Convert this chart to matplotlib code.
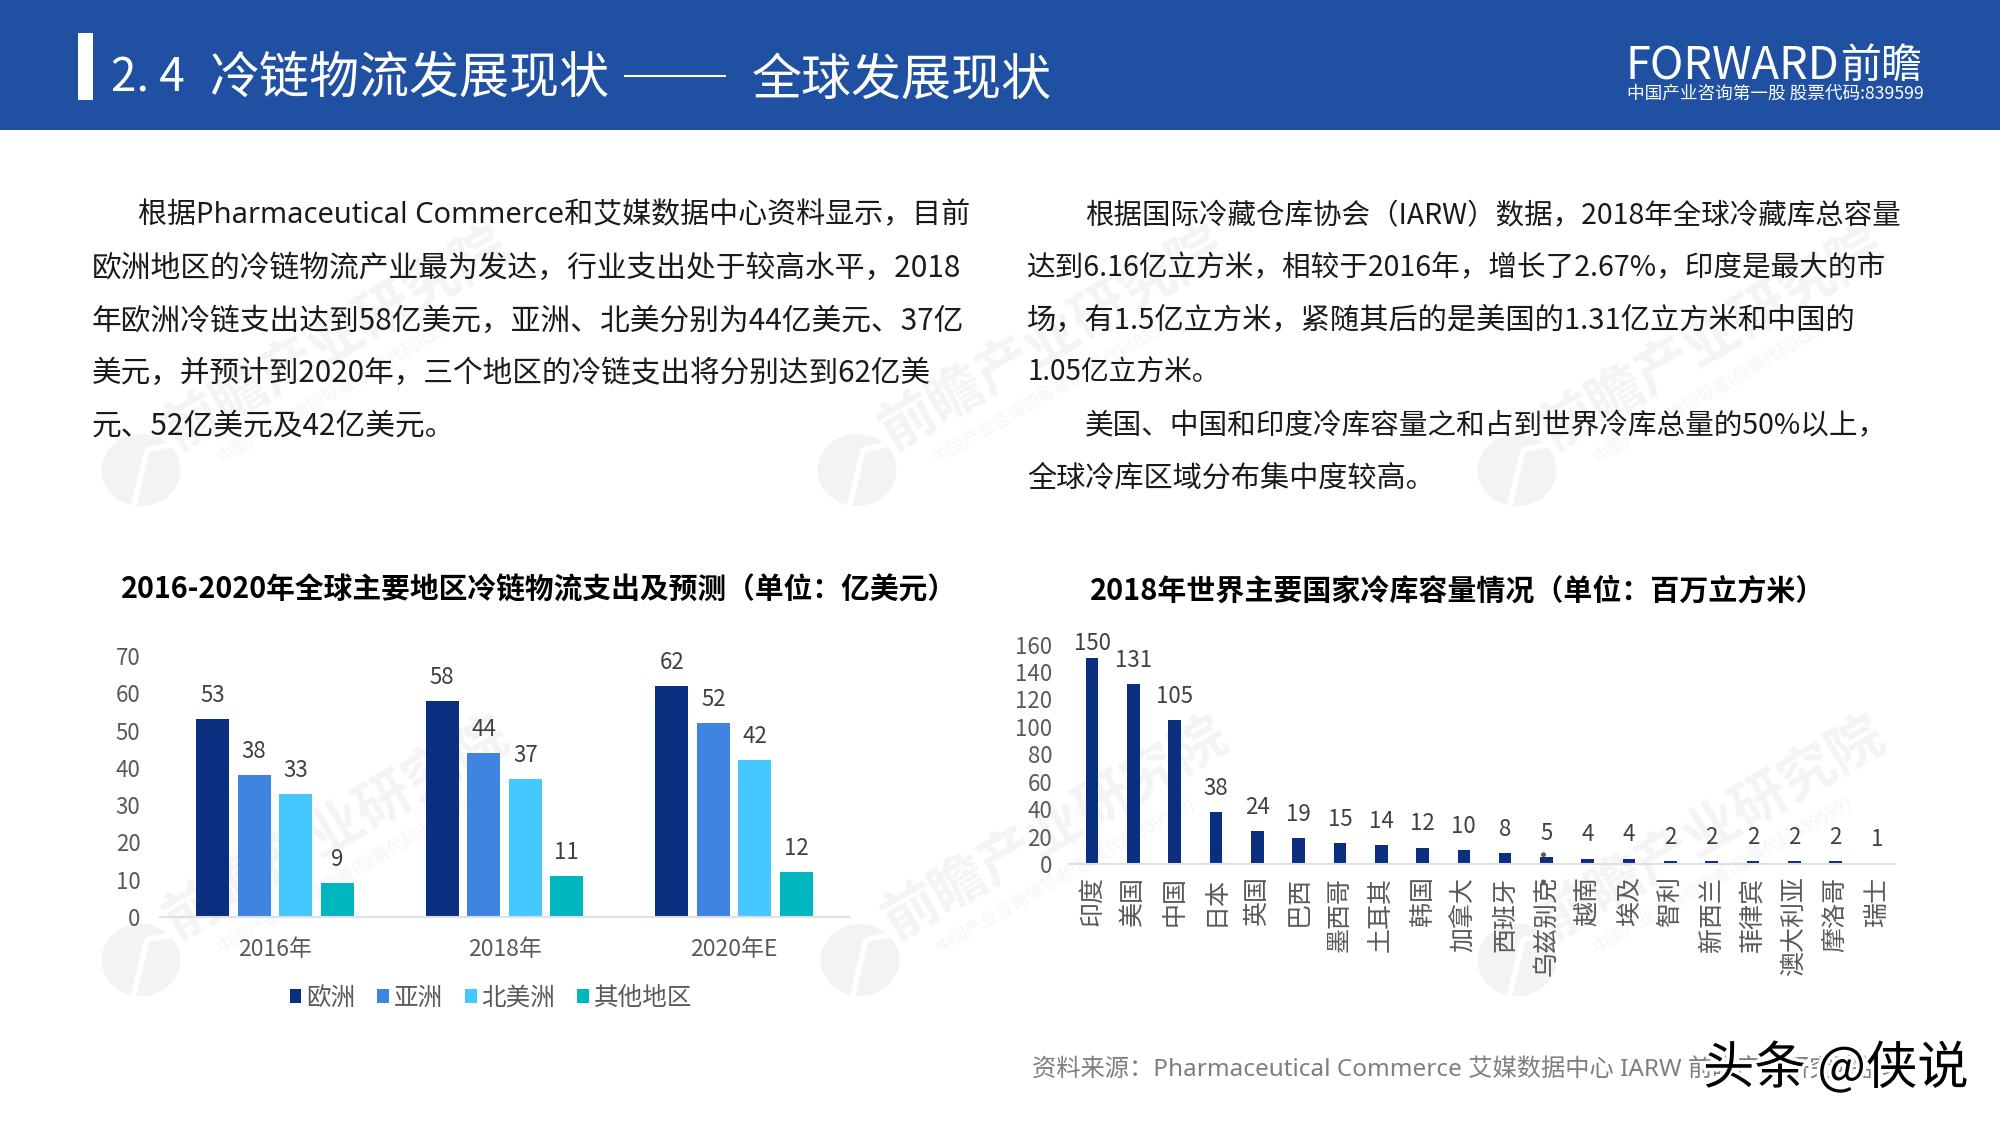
import matplotlib
matplotlib.use('Agg')
import matplotlib.pyplot as plt
import matplotlib.patheffects as pe
from matplotlib.patches import Rectangle, Ellipse
import numpy as np

plt.rcParams['font.family'] = ['Noto Sans CJK SC', 'DejaVu Sans']

# left chart data
years = ['2016年', '2018年', '2020年E']
regions = ['欧洲', '亚洲', '北美洲', '其他地区']
europe = [53, 58, 62]
asia = [38, 44, 52]
north_america = [33, 37, 42]
other = [9, 11, 12]
region_colors = ['#0B2F80', '#3F84E0', '#45C8FF', '#00B6BF']

# right chart data
countries = ['印度', '美国', '中国', '日本', '英国', '巴西', '墨西哥', '土耳其', '韩国', '加拿大',
             '西班牙', '乌兹别克', '越南', '埃及', '智利', '新西兰', '菲律宾', '澳大利亚', '摩洛哥', '瑞士']
capacity = [150, 131, 105, 38, 24, 19, 15, 14, 12, 10, 8, 5, 4, 4, 2, 2, 2, 2, 2, 1]

title_a = '冷链物流发展现状'
title_b = '全球发展现状'
left_title = '2016-2020年全球主要地区冷链物流支出及预测（单位：亿美元）'
right_title = '2018年世界主要国家冷库容量情况（单位：百万立方米）'
source = '资料来源：Pharmaceutical Commerce 艾媒数据中心 IARW 前瞻产业研究院整理'

left_lines = ['根据Pharmaceutical Commerce和艾媒数据中心资料显示，目前',
              '欧洲地区的冷链物流产业最为发达，行业支出处于较高水平，2018',
              '年欧洲冷链支出达到58亿美元，亚洲、北美分别为44亿美元、37亿',
              '美元，并预计到2020年，三个地区的冷链支出将分别达到62亿美',
              '元、52亿美元及42亿美元。']
right_lines = ['根据国际冷藏仓库协会（IARW）数据，2018年全球冷藏库总容量',
               '达到6.16亿立方米，相较于2016年，增长了2.67%，印度是最大的市',
               '场，有1.5亿立方米，紧随其后的是美国的1.31亿立方米和中国的',
               '1.05亿立方米。',
               '美国、中国和印度冷库容量之和占到世界冷库总量的50%以上，',
               '全球冷库区域分布集中度较高。']
left_sizes = [20.9, 21.45, 21.4, 21.35, 21.4]
right_sizes = [20.5, 20.6, 21.1, 20.0, 20.6, 21.0]
line_y = [216, 268, 321, 373, 426, 479]
latin_first = ['Noto Sans', 'Noto Sans CJK SC']

W, H = 2000, 1125
fig = plt.figure(figsize=(20, 11.25), dpi=100)
bg = fig.add_axes([0, 0, 1, 1])
bg.set_xlim(0, W)
bg.set_ylim(H, 0)
bg.axis('off')

# header
bg.add_patch(Rectangle((0, 0), W, 130, color='#1F50A2', lw=0))
bg.add_patch(Rectangle((78, 33), 15, 67, color='white', lw=0))
bg.text(111, 78, '2. 4', color='white', fontsize=33, va='center')
bg.text(209, 79, title_a, color='white', fontsize=36, va='center')
bg.plot([625, 725], [76, 76], color='white', lw=1.5)
bg.text(752, 81, title_b, color='white', fontsize=36, va='center')
bg.text(1625, 66, 'FORWARD', color='white', fontsize=32.5, va='center', fontweight='medium')
bg.text(1841, 66, '前瞻', color='white', fontsize=29.5, va='center')
bg.text(1627, 94, '中国产业咨询第一股 股票代码:839599', color='white', fontsize=12.7, va='center')

# watermarks
for wx, wy in [(141, 470), (857, 470), (1517, 470), (141, 960), (860, 960), (1517, 960)]:
    bg.add_patch(Ellipse((wx, wy), 79, 72, color='#f3f3f3', lw=0, zorder=1))
    bg.plot([wx - 8, wx + 6, wx + 42], [wy + 38, wy - 20, wy - 28], color='white', lw=4, zorder=1)
    bg.text(wx + 196, wy - 131, '前瞻产业研究院', color='#f4f4f4', fontsize=40, fontweight='bold',
            rotation=30, ha='center', va='center', rotation_mode='anchor', zorder=1)
    bg.text(wx + 205, wy - 85, '中国产业咨询领导者(股票代码839599)', color='#f5f5f5', fontsize=12.5,
            rotation=30, ha='center', va='center', rotation_mode='anchor', zorder=1)

# body text
for i, line in enumerate(left_lines):
    fam = latin_first if i == 0 else ['Noto Sans CJK SC', 'DejaVu Sans']
    bg.text(138 if i == 0 else 92, line_y[i], line, fontsize=left_sizes[i], family=fam,
            color='#1a1a1a', va='center', zorder=2)
for i, line in enumerate(right_lines):
    bg.text(1085 if i in (0, 4) else 1027, line_y[i], line, fontsize=right_sizes[i],
            color='#1a1a1a', va='center', zorder=2)

bg.text(121, 590, left_title, fontsize=20.7, fontweight='bold', color='black', va='center', zorder=2)
bg.text(1090, 591, right_title, fontsize=20.85, fontweight='bold', color='black', va='center', zorder=2)

bg.text(1032, 1071, source, fontsize=17.5, color='#7f7f7f', va='center', zorder=2, family=latin_first)
bg.text(1703, 1069, '头条 @侠说', fontsize=37, color='black', va='center', zorder=3, fontweight='medium',
        path_effects=[pe.withStroke(linewidth=5, foreground='white')])


def make_axes(x0, x1, y_top, y_base):
    ax = fig.add_axes([x0 / W, 1 - y_base / H, (x1 - x0) / W, (y_base - y_top) / H])
    ax.patch.set_alpha(0)
    for side in ['top', 'left', 'right']:
        ax.spines[side].set_visible(False)
    ax.spines['bottom'].set_color('#dcdfe6')
    ax.spines['bottom'].set_linewidth(1.5)
    return ax


# left chart
ax1 = make_axes(160, 849, 656, 917)
x = np.arange(len(years))
width = 0.144
step = 0.181
series = [europe, asia, north_america, other]
for i, vals in enumerate(series):
    pos = x + (i - 1.5) * step
    ax1.bar(pos, vals, width, color=region_colors[i], label=regions[i])
    for p, v in zip(pos, vals):
        ax1.annotate(str(v), (p, v), xytext=(0, 17), textcoords='offset points',
                     ha='center', va='center', fontsize=16, color='#404040')
ax1.set_xlim(-0.5, 2.5)
ax1.set_ylim(0, 70)
ax1.set_yticks(range(0, 71, 10))
ax1.set_xticks(x)
ax1.set_xticklabels(years)
ax1.tick_params(axis='y', length=0, pad=14, labelsize=16, labelcolor='#595959')
ax1.tick_params(axis='x', length=0, pad=15, labelsize=16.5, labelcolor='#595959')
ax1.legend(ncol=4, loc='center', bbox_to_anchor=(491 / W, 1 - 998 / H), bbox_transform=fig.transFigure,
           frameon=False, fontsize=17.7, handlelength=0.48, handleheight=0.48, handletextpad=0.2,
           columnspacing=0.88, labelcolor='#595959')

# right chart
ax2 = make_axes(1069, 1895, 644.6, 864)
pos2 = np.arange(len(countries))
ax2.bar(pos2, capacity, 0.305, color=region_colors[0])
for p, v in zip(pos2, capacity):
    off = 11 if v == max(capacity) else 17
    ax2.annotate(str(v), (p, v), xytext=(0, off), textcoords='offset points',
                 ha='center', va='center', fontsize=16, color='#404040', annotation_clip=False)
ax2.set_xlim(-0.56, len(countries) - 0.56)
ax2.set_ylim(0, 160)
ax2.set_yticks(range(0, 161, 20))
ax2.set_xticks(pos2)
ax2.set_xticklabels(countries, rotation=90)
ax2.tick_params(axis='y', length=0, pad=12, labelsize=16, labelcolor='#595959')
ax2.tick_params(axis='x', length=0, pad=9, labelsize=18, labelcolor='#595959')
# truncated label marks for the long country name
ax2.annotate('· ·', (countries.index('乌兹别克'), 0), xytext=(0, -2), textcoords='offset points',
             rotation=90, ha='center', va='center', fontsize=16, color='#595959', annotation_clip=False)

fig.savefig('out.png', dpi=100)
